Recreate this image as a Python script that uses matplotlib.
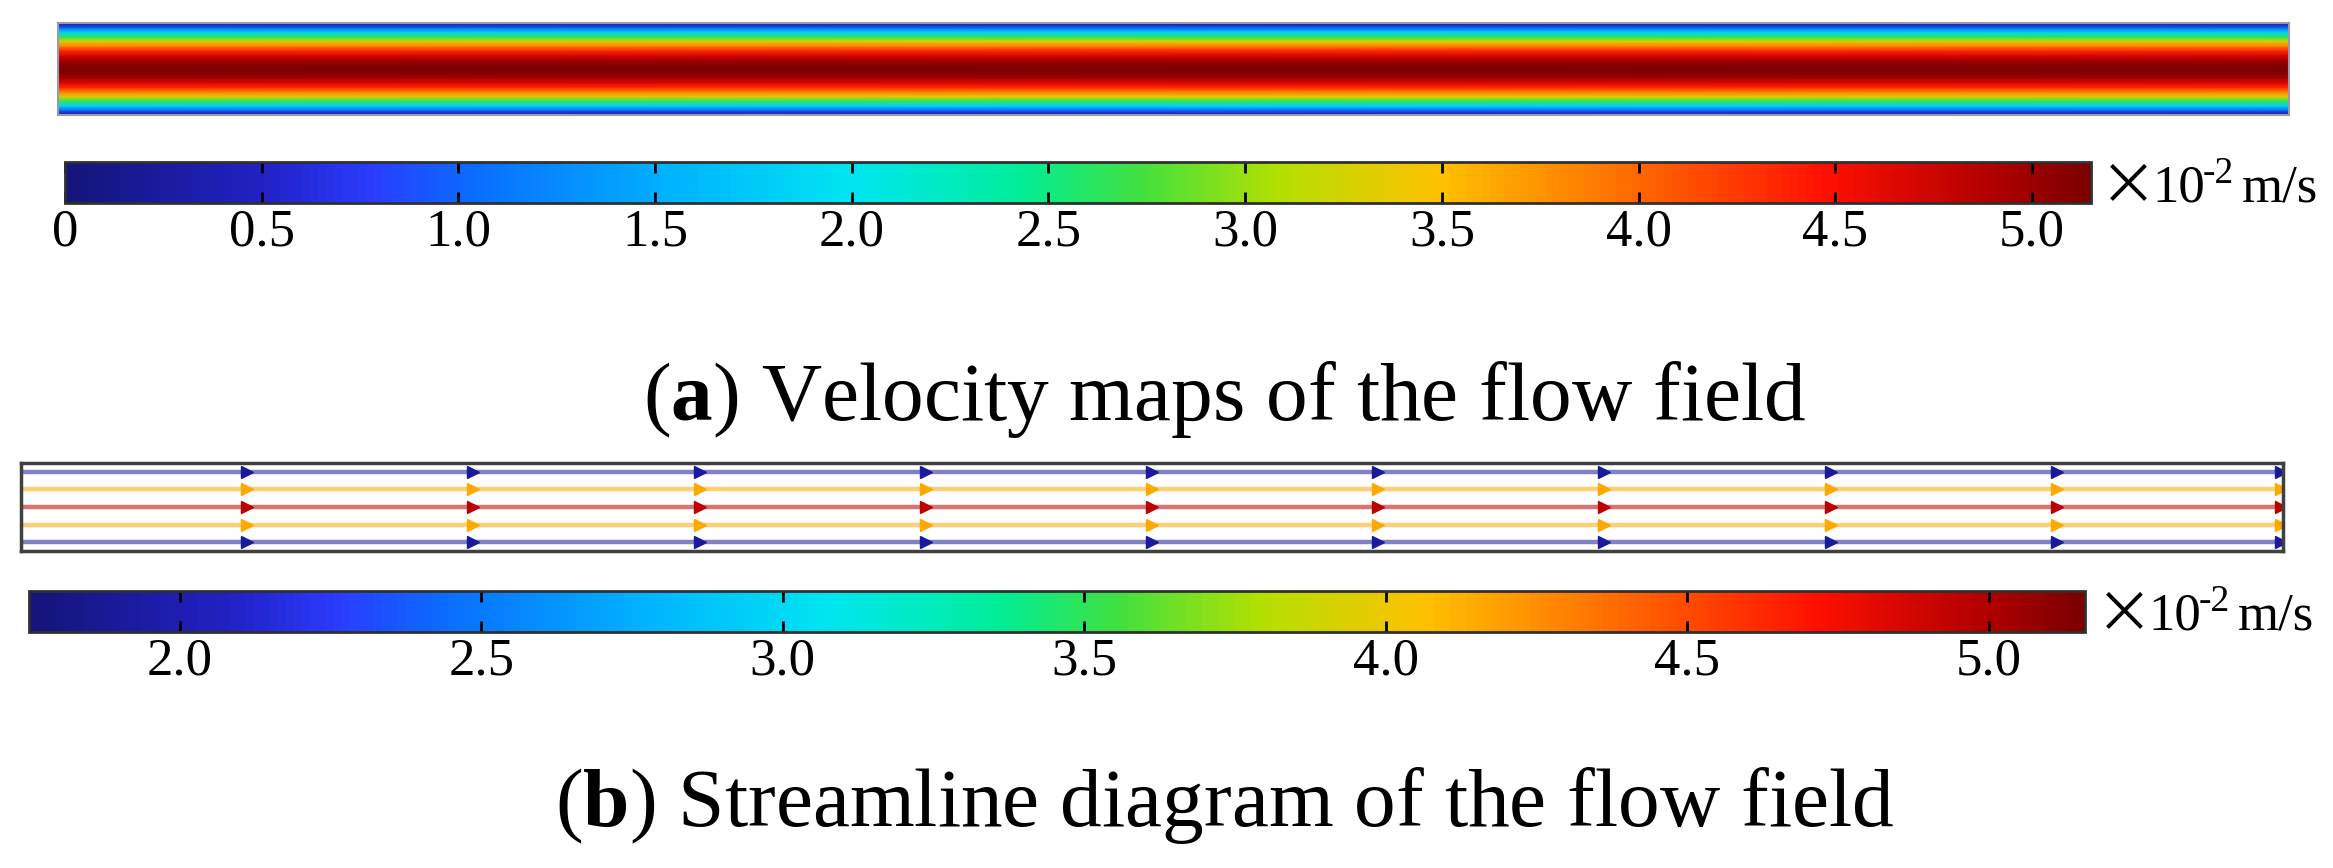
import numpy as np
import matplotlib.pyplot as plt
from matplotlib.colors import LinearSegmentedColormap, Normalize

plt.rcParams['font.family'] = ['Liberation Serif', 'DejaVu Serif']
plt.rcParams['mathtext.fontset'] = 'custom'
plt.rcParams['mathtext.rm'] = 'Liberation Serif'
plt.rcParams['mathtext.bf'] = 'Liberation Serif:bold'

# velocity profile across the channel (x10^-2 m/s), wall to wall
profile_pos = [0.0, 0.05, 0.10, 0.15, 0.20, 0.25, 0.30, 0.35, 0.40, 0.45, 0.50,
               0.55, 0.60, 0.65, 0.70, 0.75, 0.80, 0.85, 0.90, 0.95, 1.0]
profile_vel = [0.0, 0.98, 1.85, 2.63, 3.30, 3.86, 4.33, 4.68, 4.94, 5.10, 5.15,
               5.10, 4.94, 4.68, 4.33, 3.86, 3.30, 2.63, 1.85, 0.98, 0.0]

# colorbar ranges / ticks
a_range = (0.0, 5.15)
a_ticks = [0, 0.5, 1.0, 1.5, 2.0, 2.5, 3.0, 3.5, 4.0, 4.5, 5.0]
a_labels = ['0', '0.5', '1.0', '1.5', '2.0', '2.5', '3.0', '3.5', '4.0', '4.5', '5.0']
b_range = (1.75, 5.16)
b_ticks = [2.0, 2.5, 3.0, 3.5, 4.0, 4.5, 5.0]
b_labels = ['2.0', '2.5', '3.0', '3.5', '4.0', '4.5', '5.0']

# streamlines: seed position across channel and speed
stream_pos = [0.9, 0.7, 0.5, 0.3, 0.1]
stream_vel = [1.9, 4.15, 4.95, 4.15, 1.9]
arrow_x = [0.1, 0.2, 0.3, 0.4, 0.5, 0.6, 0.7, 0.8, 0.9, 0.999]

cmap = LinearSegmentedColormap.from_list('rainbow_comsol', [
    (0.00, '#14147a'), (0.10, '#2222c8'), (0.15, '#2a3cff'), (0.20, '#0a6cff'),
    (0.30, '#00b4ff'), (0.39, '#00e6f0'), (0.47, '#00ee9a'), (0.53, '#40e040'),
    (0.60, '#b4e000'), (0.68, '#ffc000'), (0.77, '#ff6e00'), (0.87, '#ff1000'),
    (0.95, '#b40000'), (1.00, '#7c0000')])

W, H = 2333, 868
fig = plt.figure(figsize=(W / 100, H / 100), dpi=100)


def px_axes(x0, y0, x1, y1):
    return fig.add_axes([x0 / W, 1 - y1 / H, (x1 - x0) / W, (y1 - y0) / H])


def style_cbar(cb, ticks, labels):
    cb.set_ticks(ticks)
    cb.set_ticklabels(labels)
    cb.ax.tick_params(axis='x', direction='in', length=8, width=2, top=True,
                      bottom=True, labelsize=38, pad=4)
    cb.outline.set_edgecolor('#303030')
    cb.outline.set_linewidth(2)


def unit_label(x, y):
    # "× 10^-2 m/s" built from pieces, baseline at pixel row y
    fig.text(x / W, 1 - (y + 1) / H, '×', fontsize=41, family='Noto Sans CJK SC',
             va='baseline', ha='left')
    fig.text((x + 52) / W, 1 - y / H, '10', fontsize=38, va='baseline', ha='left')
    fig.text((x + 103) / W, 1 - (y - 19) / H, '-2', fontsize=27,
             va='baseline', ha='left')
    fig.text((x + 142) / W, 1 - y / H, 'm/s', fontsize=38, va='baseline', ha='left')


# (a) velocity map
ax_a = px_axes(58, 23, 2289, 115)
xx = np.array([0.0, 1.0])
V = np.tile(np.array(profile_vel)[:, None], (1, 2))
norm_a = Normalize(*a_range)
mesh = ax_a.pcolormesh(xx, profile_pos, V, cmap=cmap, norm=norm_a, shading='gouraud')
ax_a.set_xlim(0, 1)
ax_a.set_ylim(0, 1)
ax_a.set_xticks([])
ax_a.set_yticks([])
for s in ax_a.spines.values():
    s.set_edgecolor('#9a9aa8')
    s.set_linewidth(1.5)

cax_a = px_axes(65, 162, 2091, 203)
cb_a = fig.colorbar(mesh, cax=cax_a, orientation='horizontal')
style_cbar(cb_a, a_ticks, a_labels)
unit_label(2100, 202)

fig.text(1225 / W, 1 - 420 / H, r'($\mathbf{a}$) Velocity maps of the flow field',
         fontsize=60, va='baseline', ha='center')

# (b) streamlines
ax_b = px_axes(21, 463, 2283, 551)
norm_b = Normalize(*b_range)
for yp, v in zip(stream_pos, stream_vel):
    c = cmap(norm_b(v))
    ax_b.plot([0, 1], [yp, yp], color=c, lw=3.2, alpha=0.55, solid_capstyle='butt')
    ax_b.plot(arrow_x, [yp] * len(arrow_x), ls='none', marker='>', ms=9,
              color=c, mec=c)
ax_b.set_xlim(0, 1)
ax_b.set_ylim(0, 1)
ax_b.set_xticks([])
ax_b.set_yticks([])
for s in ax_b.spines.values():
    s.set_edgecolor('#404040')
    s.set_linewidth(2.5)

cax_b = px_axes(29, 591, 2085, 632)
sm = plt.cm.ScalarMappable(norm=norm_b, cmap=cmap)
cb_b = fig.colorbar(sm, cax=cax_b, orientation='horizontal')
style_cbar(cb_b, b_ticks, b_labels)
unit_label(2096, 630)

fig.text(1225 / W, 1 - 826 / H, r'($\mathbf{b}$) Streamline diagram of the flow field',
         fontsize=60, va='baseline', ha='center')

fig.savefig('out.png', dpi=100, facecolor='white')
